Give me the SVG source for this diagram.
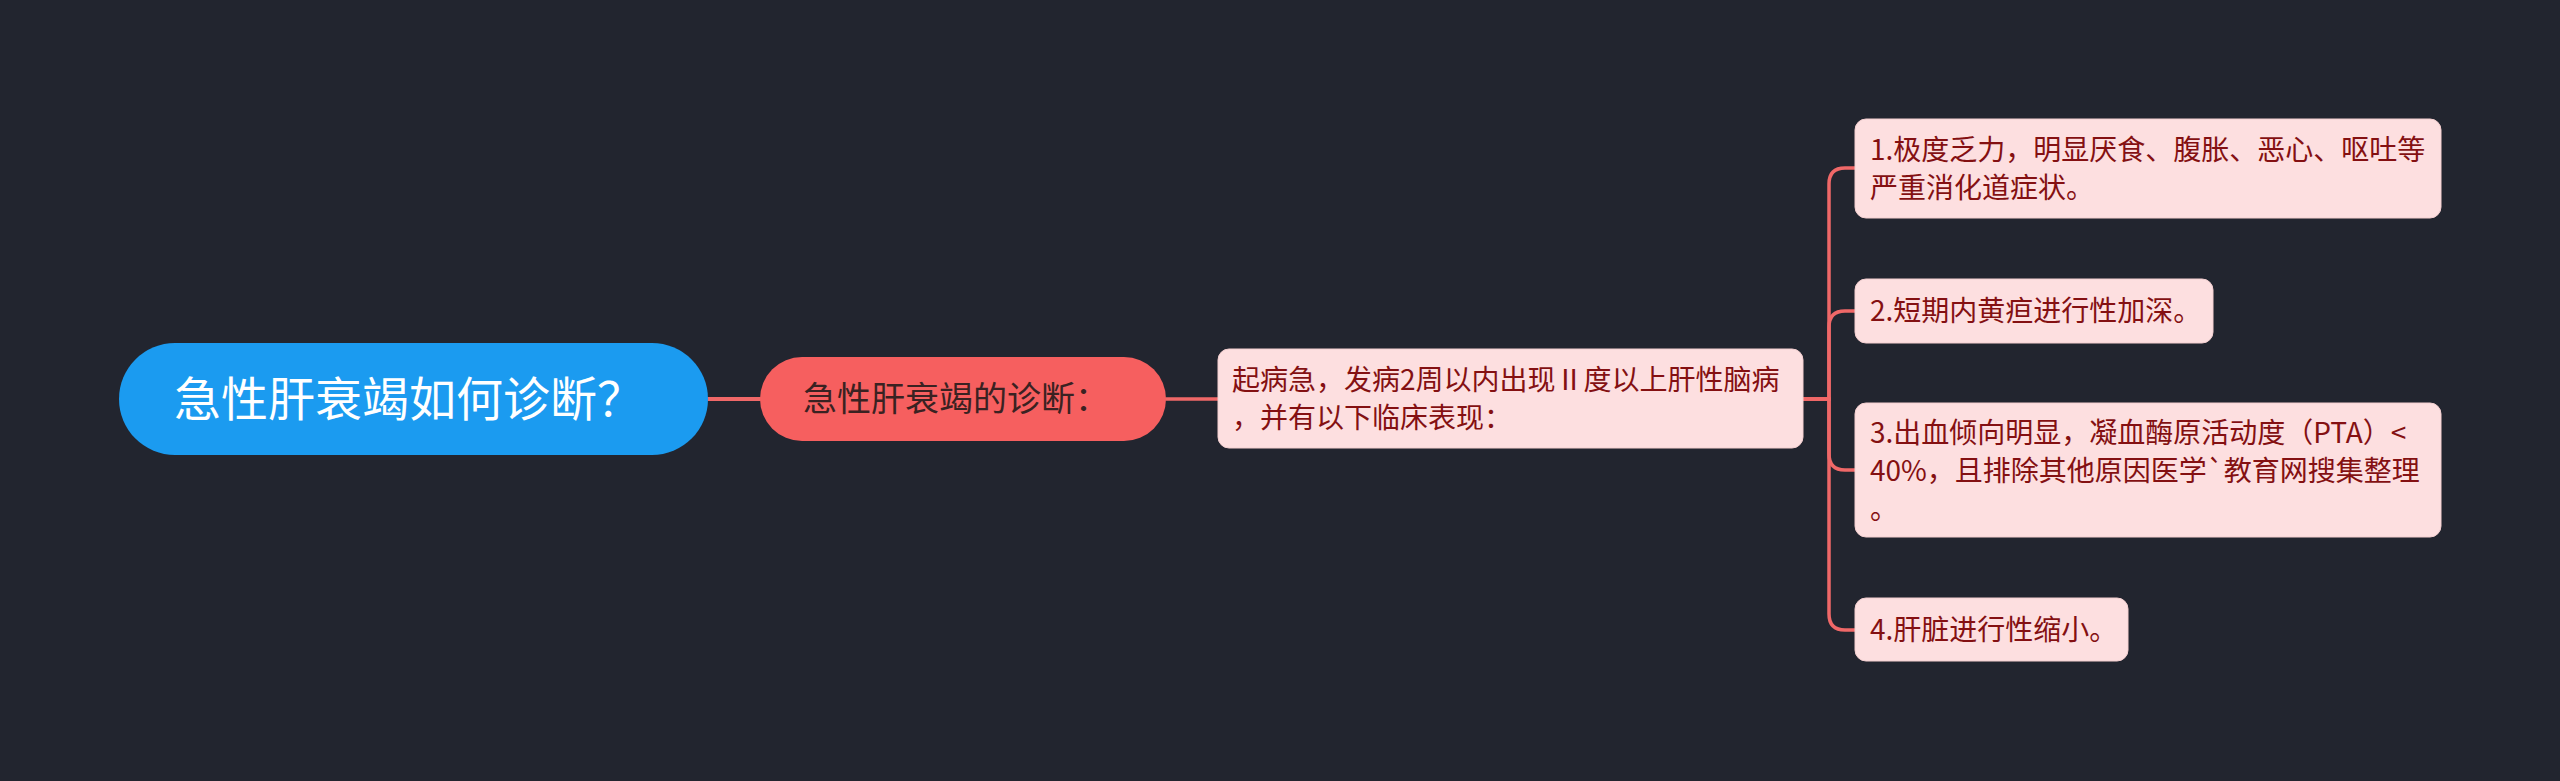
<svg xmlns="http://www.w3.org/2000/svg" width="2560" height="781" viewBox="0 0 2560 781">
<style>
.t{font-family:"Noto Sans CJK SC","Noto Sans",sans-serif;}
.leaf rect{fill:#fddfe0;stroke:#f3cfd0;stroke-width:1;}
.leaf text,.mid text{fill:#841012;font-size:28px;}
.c{fill:none;stroke:#f06868;stroke-width:3.5;stroke-linecap:round;}
</style>
<rect x="0" y="0" width="2560" height="781" fill="#22252f"/>
<g id="connectors">
<path class="c" d="M708,399 H760" style="stroke-width:4"/>
<path class="c" d="M1166,399 H1218"/>
<path class="c" d="M1803,399 H1829 V184 Q1829,168 1845,168 H1855"/>
<path class="c" d="M1803,399 H1829 V327 Q1829,311 1845,311 H1855"/>
<path class="c" d="M1803,399 H1829 V454 Q1829,470 1845,470 H1855"/>
<path class="c" d="M1803,399 H1829 V614 Q1829,630 1845,630 H1855"/>
</g>
<g id="root">
<rect x="119" y="343" width="589" height="112" rx="56" fill="#1b9bf0"/>
<text class="t" x="174" y="416" font-size="47" fill="#ffffff">急性肝衰竭如何诊断？</text>
</g>
<g id="n1">
<rect x="760" y="357" width="406" height="84" rx="42" fill="#f65f5f"/>
<text class="t" x="803" y="411" font-size="34" fill="#3a2222">急性肝衰竭的诊断：</text>
</g>
<g id="n2" class="mid">
<rect x="1218" y="349" width="585" height="99" rx="11" fill="#fddfe0" stroke="#f3cfd0" stroke-width="1"/>
<text class="t" x="1232" y="390">起病急，发病2周以内出现Ⅱ度以上肝性脑病</text>
<text class="t" x="1232" y="428">，并有以下临床表现：</text>
</g>
<g id="leaf1" class="leaf">
<rect x="1855" y="119" width="586" height="99" rx="11"/>
<text class="t" x="1870" y="160">1.极度乏力，明显厌食、腹胀、恶心、呕吐等</text>
<text class="t" x="1870" y="198">严重消化道症状。</text>
</g>
<g id="leaf2" class="leaf">
<rect x="1855" y="279" width="358" height="64" rx="11"/>
<text class="t" x="1870" y="321">2.短期内黄疸进行性加深。</text>
</g>
<g id="leaf3" class="leaf">
<rect x="1855" y="403" width="586" height="134" rx="11"/>
<text class="t" x="1870" y="443">3.出血倾向明显，凝血酶原活动度（PTA）&lt;</text>
<text class="t" x="1870" y="481">40%，且排除其他原因医学`教育网搜集整理</text>
<text class="t" x="1870" y="519">。</text>
</g>
<g id="leaf4" class="leaf">
<rect x="1855" y="598" width="273" height="63" rx="11"/>
<text class="t" x="1870" y="640">4.肝脏进行性缩小。</text>
</g>
</svg>
